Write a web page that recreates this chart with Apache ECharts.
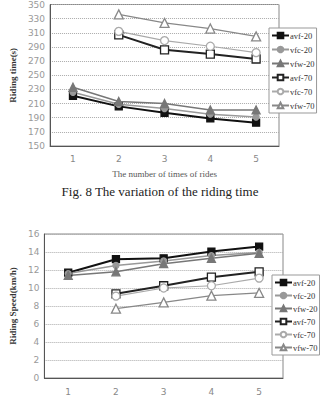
<!DOCTYPE html>
<html>
<head>
<meta charset="utf-8">
<script src="https://cdn.jsdelivr.net/npm/echarts@6/dist/echarts.min.js"></script>
<style>
  html, body { margin: 0; padding: 0; background: #fff; }
  #page { position: relative; width: 320px; height: 396px; overflow: hidden; }
  #chart-time { position: absolute; left: 0; top: 0; width: 320px; height: 200px; }
  #chart-speed { position: absolute; left: 0; top: 200px; width: 320px; height: 196px; }
</style>
</head>
<body>
<div id="page">
  <div id="chart-time"></div>
  <div id="chart-speed"></div>
</div>
<script>
var rides = ['1', '2', '3', '4', '5'];
var seriesNames = ['avf-20', 'vfc-20', 'vfw-20', 'avf-70', 'vfc-70', 'vfw-70'];

// riding time (s)
var timeAvf20 = [221, 206, 197, 189, 183];
var timeVfc20 = [226, 209, 203, 195, 191];
var timeVfw20 = [233, 213, 210, 201, 201];
var timeAvf70 = ['-', 307, 286, 280, 273];
var timeVfc70 = ['-', 312, 299, 291, 282];
var timeVfw70 = ['-', 336, 324, 316, 305];

// riding speed (km/h)
var speedAvf20 = [11.7, 13.2, 13.3, 14.05, 14.6];
var speedVfc20 = [11.6, 12.5, 13.0, 13.6, 13.95];
var speedVfw20 = [11.4, 11.8, 12.7, 13.3, 13.85];
var speedAvf70 = ['-', 9.35, 10.25, 11.2, 11.8];
var speedVfc70 = ['-', 9.1, 10.0, 10.25, 11.1];
var speedVfw70 = ['-', 7.7, 8.4, 9.15, 9.45];

(function() {
  var serif = 'Liberation Serif';
  var sans = 'DejaVu Sans';
  var styles = [
    { color: '#111', line: 2, symbol: 'rect', size: 7, fill: '#111' },
    { color: '#999', line: 1.5, symbol: 'circle', size: 6, fill: '#999' },
    { color: '#777', line: 1.5, symbol: 'triangle', size: 8, fill: '#777' },
    { color: '#222', line: 2, symbol: 'rect', size: 8, fill: '#fff' },
    { color: '#aaa', line: 1.2, symbol: 'circle', size: 8, fill: '#fff' },
    { color: '#888', line: 1.2, symbol: 'triangle', size: 9, fill: '#fff' }
  ];

  function makeSeries(datas) {
    return datas.map(function(d, i) {
      var s = styles[i];
      return {
        name: seriesNames[i],
        type: 'line',
        data: d,
        symbol: s.symbol,
        symbolSize: s.size,
        lineStyle: { color: s.color, width: s.line },
        itemStyle: { color: s.fill, borderColor: s.color, borderWidth: 1.3 }
      };
    });
  }

  function legendBox(left, top, gap) {
    return {
      orient: 'vertical',
      left: left,
      top: top,
      data: seriesNames,
      itemWidth: 17,
      itemHeight: 7,
      itemGap: gap,
      padding: [3, 2, 3, 2],
      backgroundColor: '#fff',
      borderColor: '#999',
      borderWidth: 1,
      textStyle: { fontFamily: serif, fontSize: 8.5, color: '#333', padding: [0, 0, 0, -4] }
    };
  }

  function xAxisOpt(name, margin) {
    return {
      type: 'category',
      data: rides,
      boundaryGap: true,
      name: name,
      nameLocation: 'middle',
      nameGap: 23,
      nameTextStyle: { fontFamily: serif, fontSize: 9, color: '#555' },
      axisLine: { lineStyle: { color: '#555', width: 1 } },
      axisTick: { inside: true, length: 3, lineStyle: { color: '#555' } },
      axisLabel: { fontFamily: sans, fontSize: 9, color: '#888', margin: margin }
    };
  }

  function yAxisOpt(name, min, max, step) {
    return {
      type: 'value',
      min: min,
      max: max,
      interval: step,
      name: name,
      nameLocation: 'middle',
      nameGap: 27,
      nameTextStyle: { fontFamily: serif, fontSize: 9, fontWeight: 'bold', color: '#333' },
      axisLine: { show: true, lineStyle: { color: '#555' } },
      axisTick: { show: false },
      axisLabel: { fontFamily: sans, fontSize: 9, color: '#999', margin: 5 },
      splitLine: { lineStyle: { color: '#aaa', type: 'dotted' } }
    };
  }

  var chart1 = echarts.init(document.getElementById('chart-time'), null, { renderer: 'svg' });
  chart1.setOption({
    animation: false,
    title: {
      text: 'Fig. 8 The variation of the riding time',
      left: 'center',
      top: 180,
      textStyle: { fontFamily: serif, fontSize: 13, fontWeight: 'normal', color: '#222' }
    },
    grid: { left: 38, right: 41, top: -2, bottom: 54, show: true, borderColor: '#888', borderWidth: 1 },
    legend: legendBox(269, 28, 5),
    xAxis: xAxisOpt('The number of times of rides', 8),
    yAxis: yAxisOpt('Riding time(s)', 150, 350, 20),
    series: makeSeries([timeAvf20, timeVfc20, timeVfw20, timeAvf70, timeVfc70, timeVfw70])
  });

  var chart2 = echarts.init(document.getElementById('chart-speed'), null, { renderer: 'svg' });
  chart2.setOption({
    animation: false,
    grid: { left: 40, right: 37, top: 34, bottom: 11, show: true, borderColor: '#888', borderWidth: 1 },
    legend: legendBox(272, 75, 4),
    xAxis: xAxisOpt('', 9),
    yAxis: yAxisOpt('Riding Speed(km/h)', 0, 16, 2),
    series: makeSeries([speedAvf20, speedVfc20, speedVfw20, speedAvf70, speedVfc70, speedVfw70])
  });
})();
</script>
</body>
</html>
